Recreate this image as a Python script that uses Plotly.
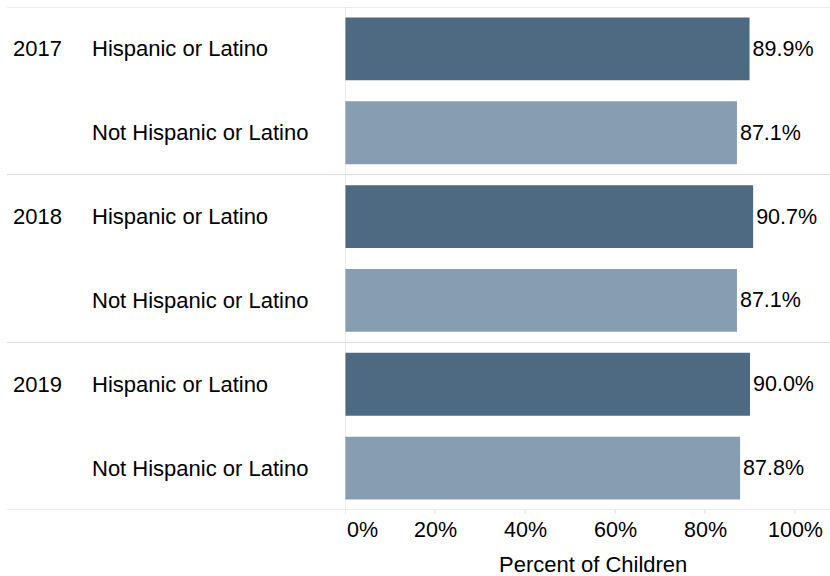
import plotly.graph_objects as go

years = ["2017", "2018", "2019"]
groups = ["Hispanic or Latino", "Not Hispanic or Latino"]
hispanic = [89.9, 90.7, 90.0]
not_hispanic = [87.1, 87.1, 87.8]
tick_vals = [0, 20, 40, 60, 80, 100]
tick_text = ["0%", "20%", "40%", "60%", "80%", "100%"]

DARK = "#4E6A82"
LIGHT = "#879EB2"
GRID = "#D9D9D9"
FONT = "Liberation Sans, Arial, sans-serif"
FS = 22
FSN = 21.5

W, H = 830, 576
L, R, T, B = 345, 0, 7, 66
PW = W - L - R
PH = H - T - B

rows_y, vals, cols = [], [], []
for i, yr in enumerate(years):
    rows_y += [2 * i, 2 * i + 1]
    vals += [hispanic[i], not_hispanic[i]]
    cols += [DARK, LIGHT]

fig = go.Figure()
fig.add_trace(go.Bar(
    x=vals, y=rows_y, orientation="h", width=0.75,
    marker=dict(color=cols, line=dict(width=0)),
    text=[f"{v:.1f}%" for v in vals], textposition="outside",
    textfont=dict(family=FONT, size=FSN, color="#000000"),
    cliponaxis=False, hoverinfo="skip",
))

def px_to_paper(px):
    return (px - L) / PW

annotations = []
for i, yr in enumerate(years):
    annotations.append(dict(x=px_to_paper(11), y=2 * i, xref="paper", yref="y",
                            text=yr, showarrow=False, xanchor="left", yanchor="middle",
                            font=dict(family=FONT, size=FS, color="#000")))
    for j, g in enumerate(groups):
        annotations.append(dict(x=px_to_paper(90), y=2 * i + j, xref="paper", yref="y",
                                text=g, showarrow=False, xanchor="left", yanchor="middle",
                                font=dict(family=FONT, size=FS, color="#000")))
for v, t in zip(tick_vals, tick_text):
    annotations.append(dict(x=v, y=0, xref="x", yref="paper", yshift=-20,
                            text=t, showarrow=False, yanchor="middle",
                            xanchor="left" if v == 0 else "center",
                            xshift=0,
                            font=dict(family=FONT, size=FSN, color="#000")))
annotations.append(dict(x=0.5, y=0, xref="paper", yref="paper", yshift=-54,
                        text="Percent of Children", showarrow=False,
                        xanchor="center", yanchor="middle", xshift=5,
                        font=dict(family=FONT, size=FS, color="#000")))

shapes = []
for yv in [-0.5, 1.5, 3.5, 5.5]:
    shapes.append(dict(type="line", xref="paper", yref="y",
                       x0=px_to_paper(7), x1=1, y0=yv, y1=yv,
                       line=dict(color=GRID, width=1)))
shapes.append(dict(type="line", xref="x", yref="paper", x0=0, x1=0, y0=0, y1=1,
                   line=dict(color=GRID, width=1)))
for v in tick_vals:
    shapes.append(dict(type="line", xref="x", yref="paper", x0=v, x1=v,
                       y0=0, y1=-4 / PH,
                       line=dict(color=GRID, width=1)))

fig.update_layout(
    width=W, height=H,
    margin=dict(l=L, r=R, t=T, b=B, pad=0),
    paper_bgcolor="white", plot_bgcolor="white",
    showlegend=False,
    xaxis=dict(range=[0, PW / 4.5], showgrid=False, zeroline=False,
               showticklabels=False, ticks="", fixedrange=True),
    yaxis=dict(range=[5.5, -0.5], showgrid=False, zeroline=False,
               showticklabels=False, ticks="", fixedrange=True),
    annotations=annotations, shapes=shapes,
)

fig.write_html("out.html", config={"displayModeBar": False},
               post_script="document.body.style.margin='0';")
